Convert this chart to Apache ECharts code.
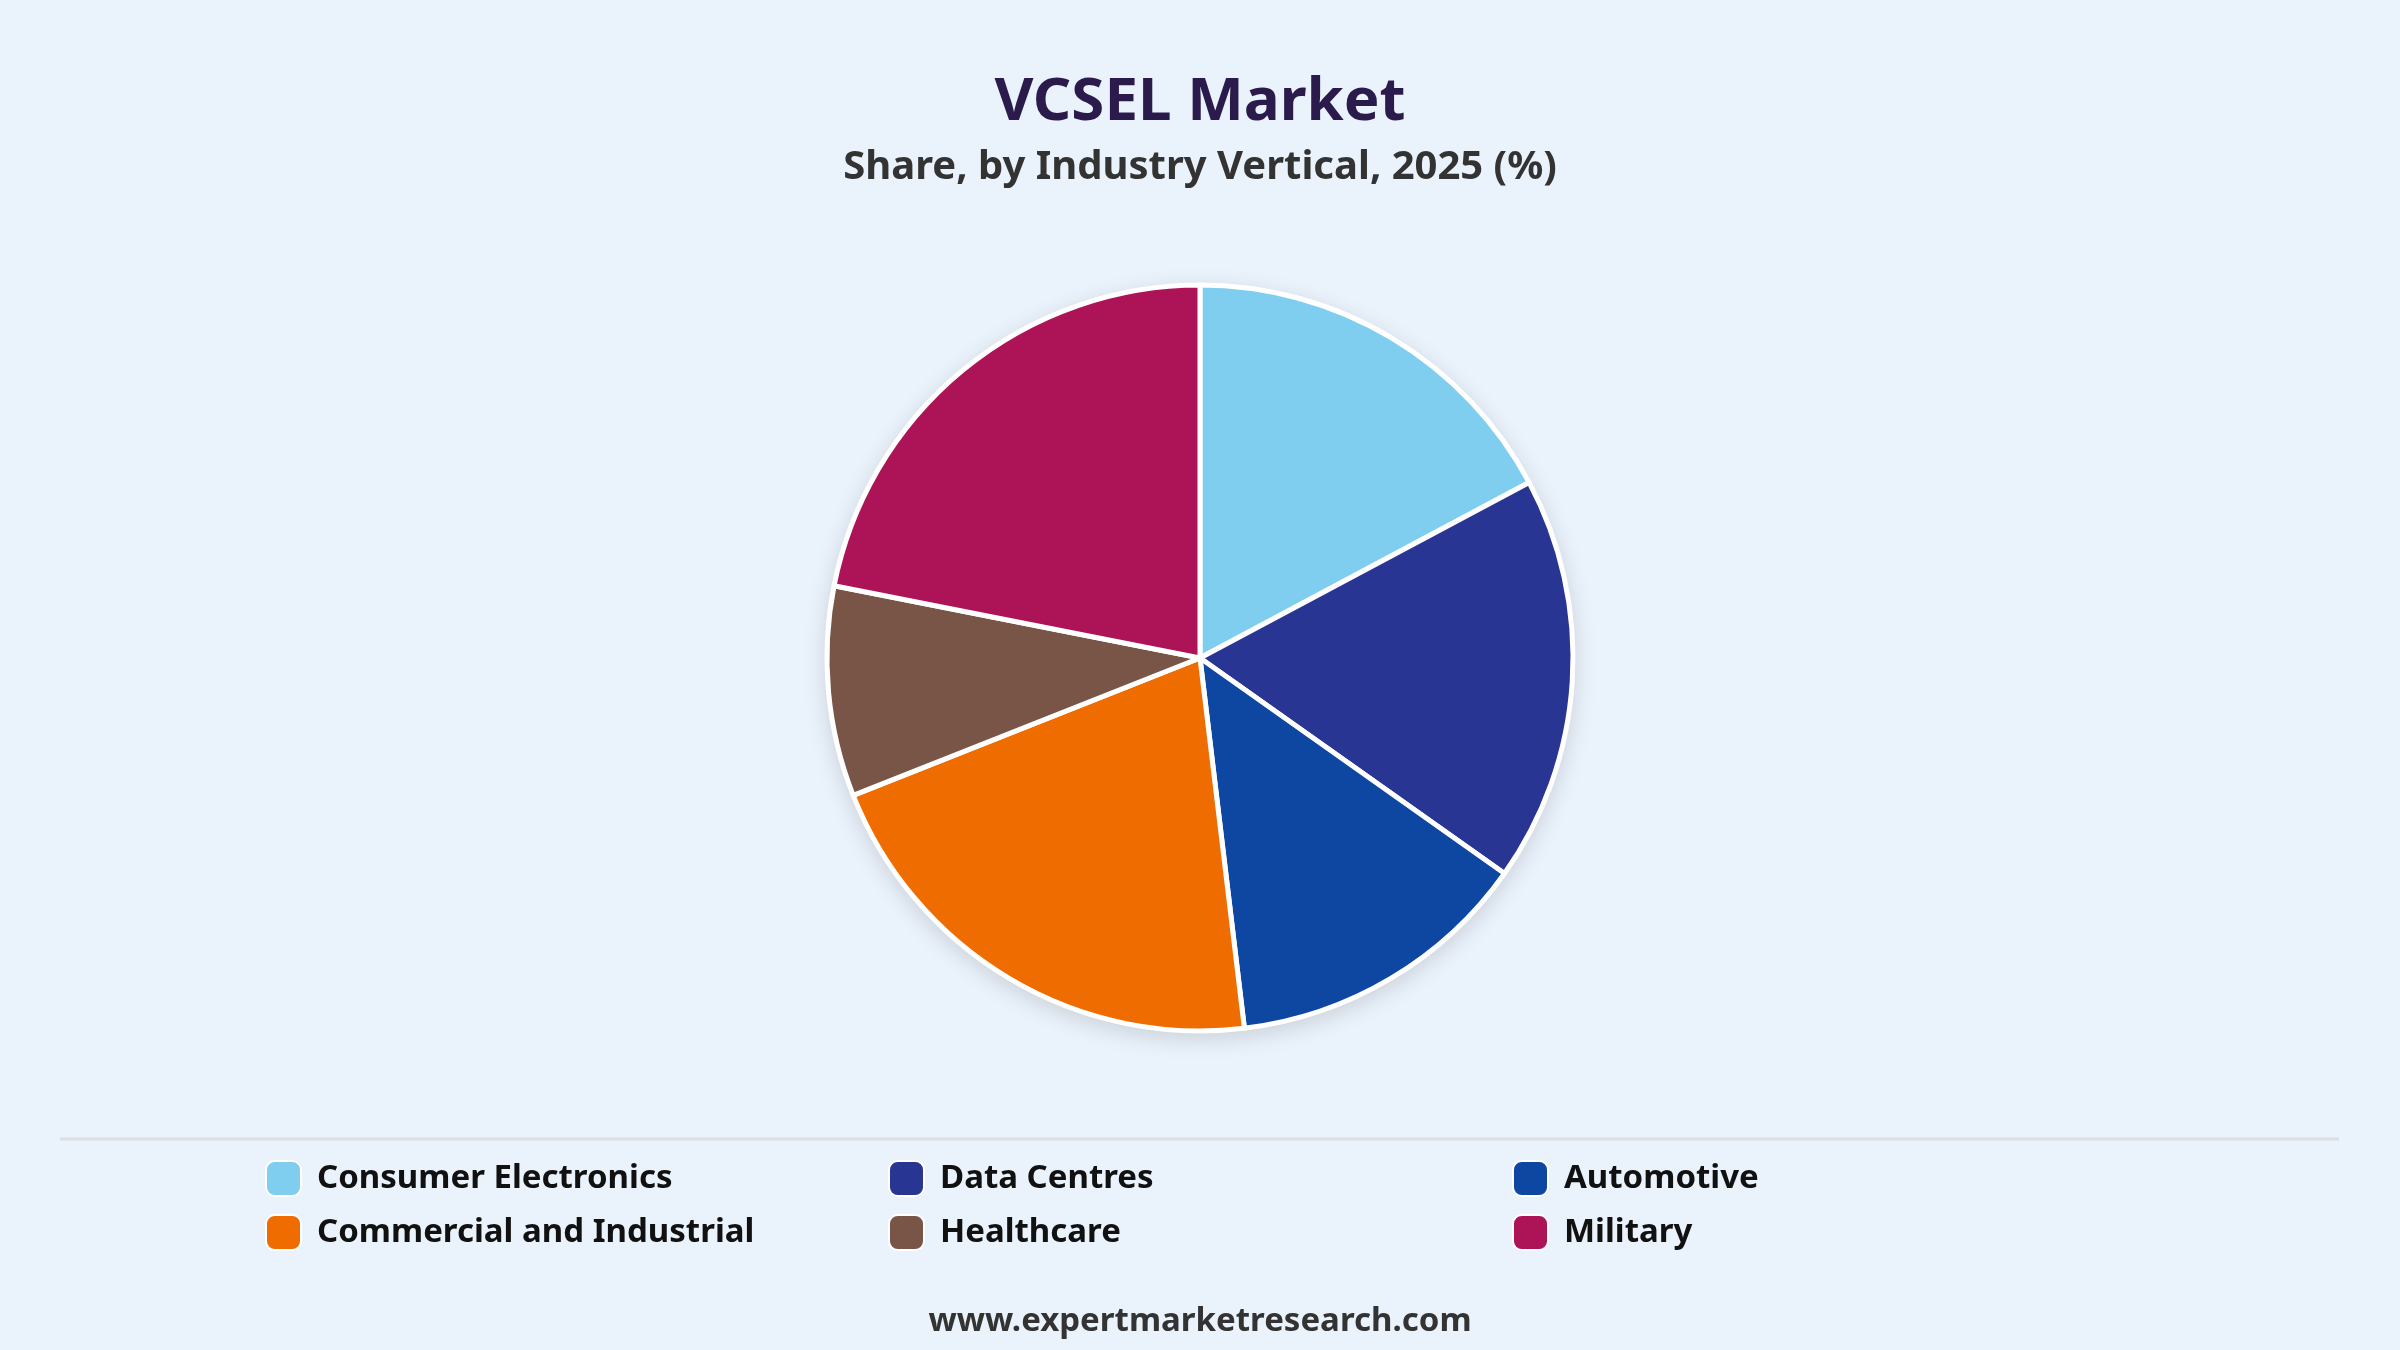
<!DOCTYPE html>
<html>
<head>
<meta charset="utf-8">
<script src="https://cdn.jsdelivr.net/npm/echarts@6/dist/echarts.min.js"></script>
<style>
html,body{margin:0;padding:0;background:#EAF2FB;}
#chart{width:2400px;height:1350px;}
</style>
</head>
<body>
<div id="chart"></div>
<script>
const categories = ['Consumer Electronics','Data Centres','Automotive','Commercial and Industrial','Healthcare','Military'];
const shares = [17.2, 17.6, 13.3, 20.9, 9.1, 21.9];
const colors = ['#7FCEF0','#283593','#0D47A1','#EF6C00','#795548','#AD1457'];
const titleText = 'VCSEL Market';
const subtitleText = 'Share, by Industry Vertical, 2025 (%)';
const footerText = 'www.expertmarketresearch.com';

const FONT = '"Noto Sans", "Open Sans", sans-serif';
const chart = echarts.init(document.getElementById('chart'));

const legendCols = [265, 888, 1512];
const legendRows = [1160, 1214];
const legends = categories.map((c, i) => ({
  data: [c],
  left: legendCols[i % 3],
  top: legendRows[Math.floor(i / 3)],
  padding: 0,
  orient: 'horizontal',
  icon: 'roundRect',
  itemWidth: 35,
  itemHeight: 35,
  itemGap: 15,
  selectedMode: false,
  textStyle: { fontFamily: FONT, fontSize: 33, fontWeight: 'bold', color: '#111111', padding: [0,0,0,11] }
}));

const total = shares.reduce((a, b) => a + b, 0);

chart.setOption({
  backgroundColor: '#EAF2FB',
  animation: false,
  title: [
    { text: titleText, left: 'center', top: 68,
      textStyle: { fontFamily: FONT, fontSize: 60, fontWeight: 'bold', color: '#2B1B4D' } },
    { text: subtitleText, left: 'center', top: 143,
      textStyle: { fontFamily: FONT, fontSize: 40, fontWeight: 'bold', color: '#333333' } },
    { text: footerText, left: 'center', top: 1300,
      textStyle: { fontFamily: FONT, fontSize: 33, fontWeight: 'bold', color: '#333333' } }
  ],
  legend: legends,
  graphic: [
    { type: 'line', shape: { x1: 60, y1: 1139, x2: 2339, y2: 1139 },
      style: { stroke: '#DADDE2', lineWidth: 3 }, silent: true }
  ],
  series: [
    {
      type: 'pie', silent: true, z: 1,
      center: [1200, 658], radius: [0, 373],
      label: { show: false }, labelLine: { show: false },
      itemStyle: { color: '#EAF2FB', shadowBlur: 24, shadowColor: 'rgba(0,0,0,0.16)', shadowOffsetY: 6 },
      data: [{ name: '__bg', value: total }]
    },
    {
      type: 'pie', z: 2,
      center: [1200, 658], radius: [0, 373],
      startAngle: 90, clockwise: true,
      label: { show: false }, labelLine: { show: false },
      itemStyle: { borderColor: '#FFFFFF', borderWidth: 5 },
      data: categories.map((c, i) => ({ name: c, value: shares[i], itemStyle: { color: colors[i] } }))
    }
  ]
});
</script>
</body>
</html>
